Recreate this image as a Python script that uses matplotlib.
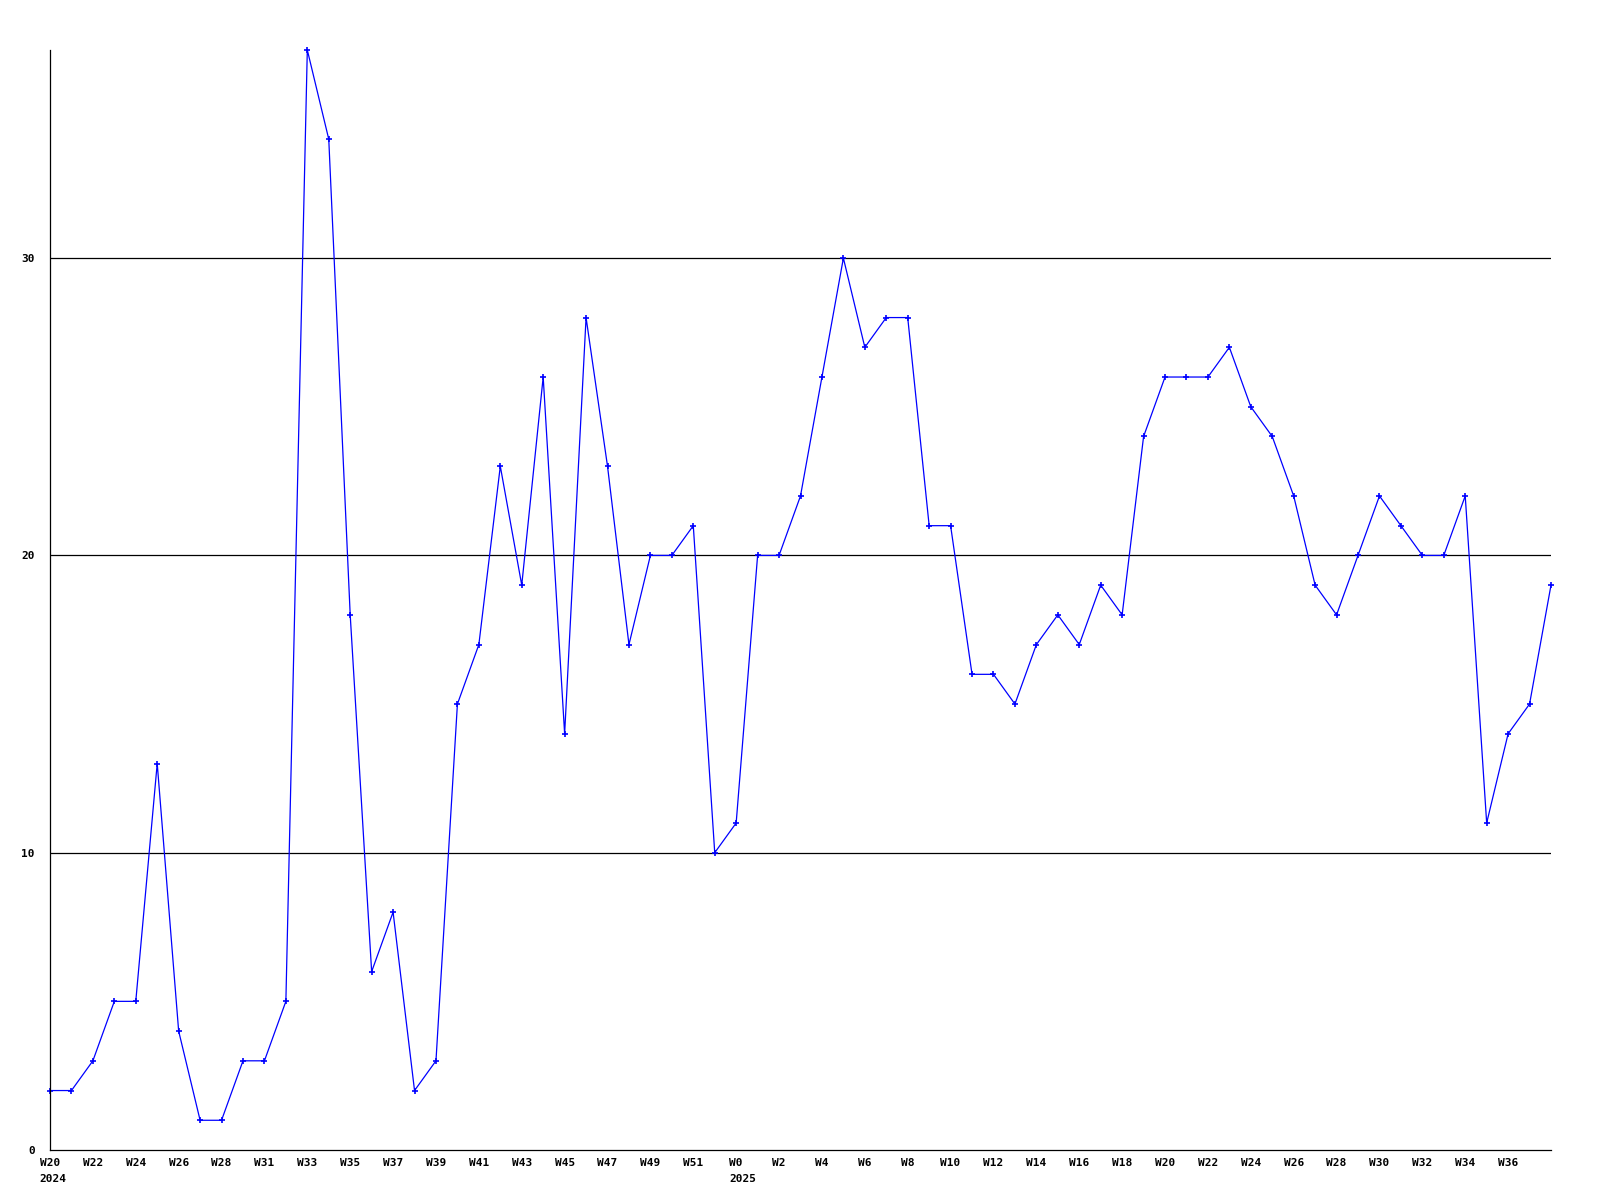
import matplotlib
matplotlib.use("Agg")
import matplotlib.pyplot as plt

weeks = ["W20", "W21", "W22", "W23", "W24", "W25", "W26", "W27", "W28", "W30",
         "W31", "W32", "W33", "W34", "W35", "W36", "W37", "W38", "W39", "W40",
         "W41", "W42", "W43", "W44", "W45", "W46", "W47", "W48", "W49", "W50",
         "W51", "W52",
         "W0", "W1", "W2", "W3", "W4", "W5", "W6", "W7", "W8", "W9",
         "W10", "W11", "W12", "W13", "W14", "W15", "W16", "W17", "W18", "W19",
         "W20", "W21", "W22", "W23", "W24", "W25", "W26", "W27", "W28", "W29",
         "W30", "W31", "W32", "W33", "W34", "W35", "W36", "W37", "W38"]
years = {0: "2024", 32: "2025"}
values = [2, 2, 3, 5, 5, 13, 4, 1, 1, 3,
          3, 5, 37, 34, 18, 6, 8, 2, 3, 15,
          17, 23, 19, 26, 14, 28, 23, 17, 20, 20,
          21, 10,
          11, 20, 20, 22, 26, 30, 27, 28, 28, 21,
          21, 16, 16, 15, 17, 18, 17, 19, 18, 24,
          26, 26, 26, 27, 25, 24, 22, 19, 18, 20,
          22, 21, 20, 20, 22, 11, 14, 15, 19]
y_ticks = [0, 10, 20, 30]

fig = plt.figure(figsize=(16, 12), dpi=100)
ax = fig.add_axes([50 / 1600, 1 - 1150 / 1200, (1551 - 50) / 1600, 1100 / 1200])

x = list(range(len(values)))
ax.plot(x, values, color="#0000ff", linewidth=0.9, marker="+", markersize=4,
        markeredgewidth=1.2, clip_on=False)

ax.set_xlim(0, len(values) - 1)
ax.set_ylim(0, max(values))

for v in y_ticks[1:]:
    ax.axhline(v, color="black", linewidth=0.9, zorder=0)

mono = dict(family="DejaVu Sans Mono", weight="bold", size=8)
ax.set_yticks(y_ticks)
ax.set_yticklabels([str(v) for v in y_ticks], **mono)
tick_pos = list(range(0, len(values) - 1, 2))
ax.set_xticks(tick_pos)
ax.set_xticklabels([weeks[i] for i in tick_pos], **mono)
ax.tick_params(axis="x", length=0, pad=6)
ax.tick_params(axis="y", length=0, pad=11)

# year labels, left-aligned with the week label above them
fig.canvas.draw()
renderer = fig.canvas.get_renderer()
for lbl, i in zip(ax.get_xticklabels(), tick_pos):
    if i in years:
        bb = lbl.get_window_extent(renderer)
        fig.text(bb.x0 / fig.bbox.width, (bb.y0 - 16) / fig.bbox.height,
                 years[i], ha="left", va="bottom", **mono)

for s in ["top", "right"]:
    ax.spines[s].set_visible(False)
ax.spines["left"].set_linewidth(0.9)
ax.spines["bottom"].set_linewidth(0.9)

fig.savefig("out.png", dpi=100)
